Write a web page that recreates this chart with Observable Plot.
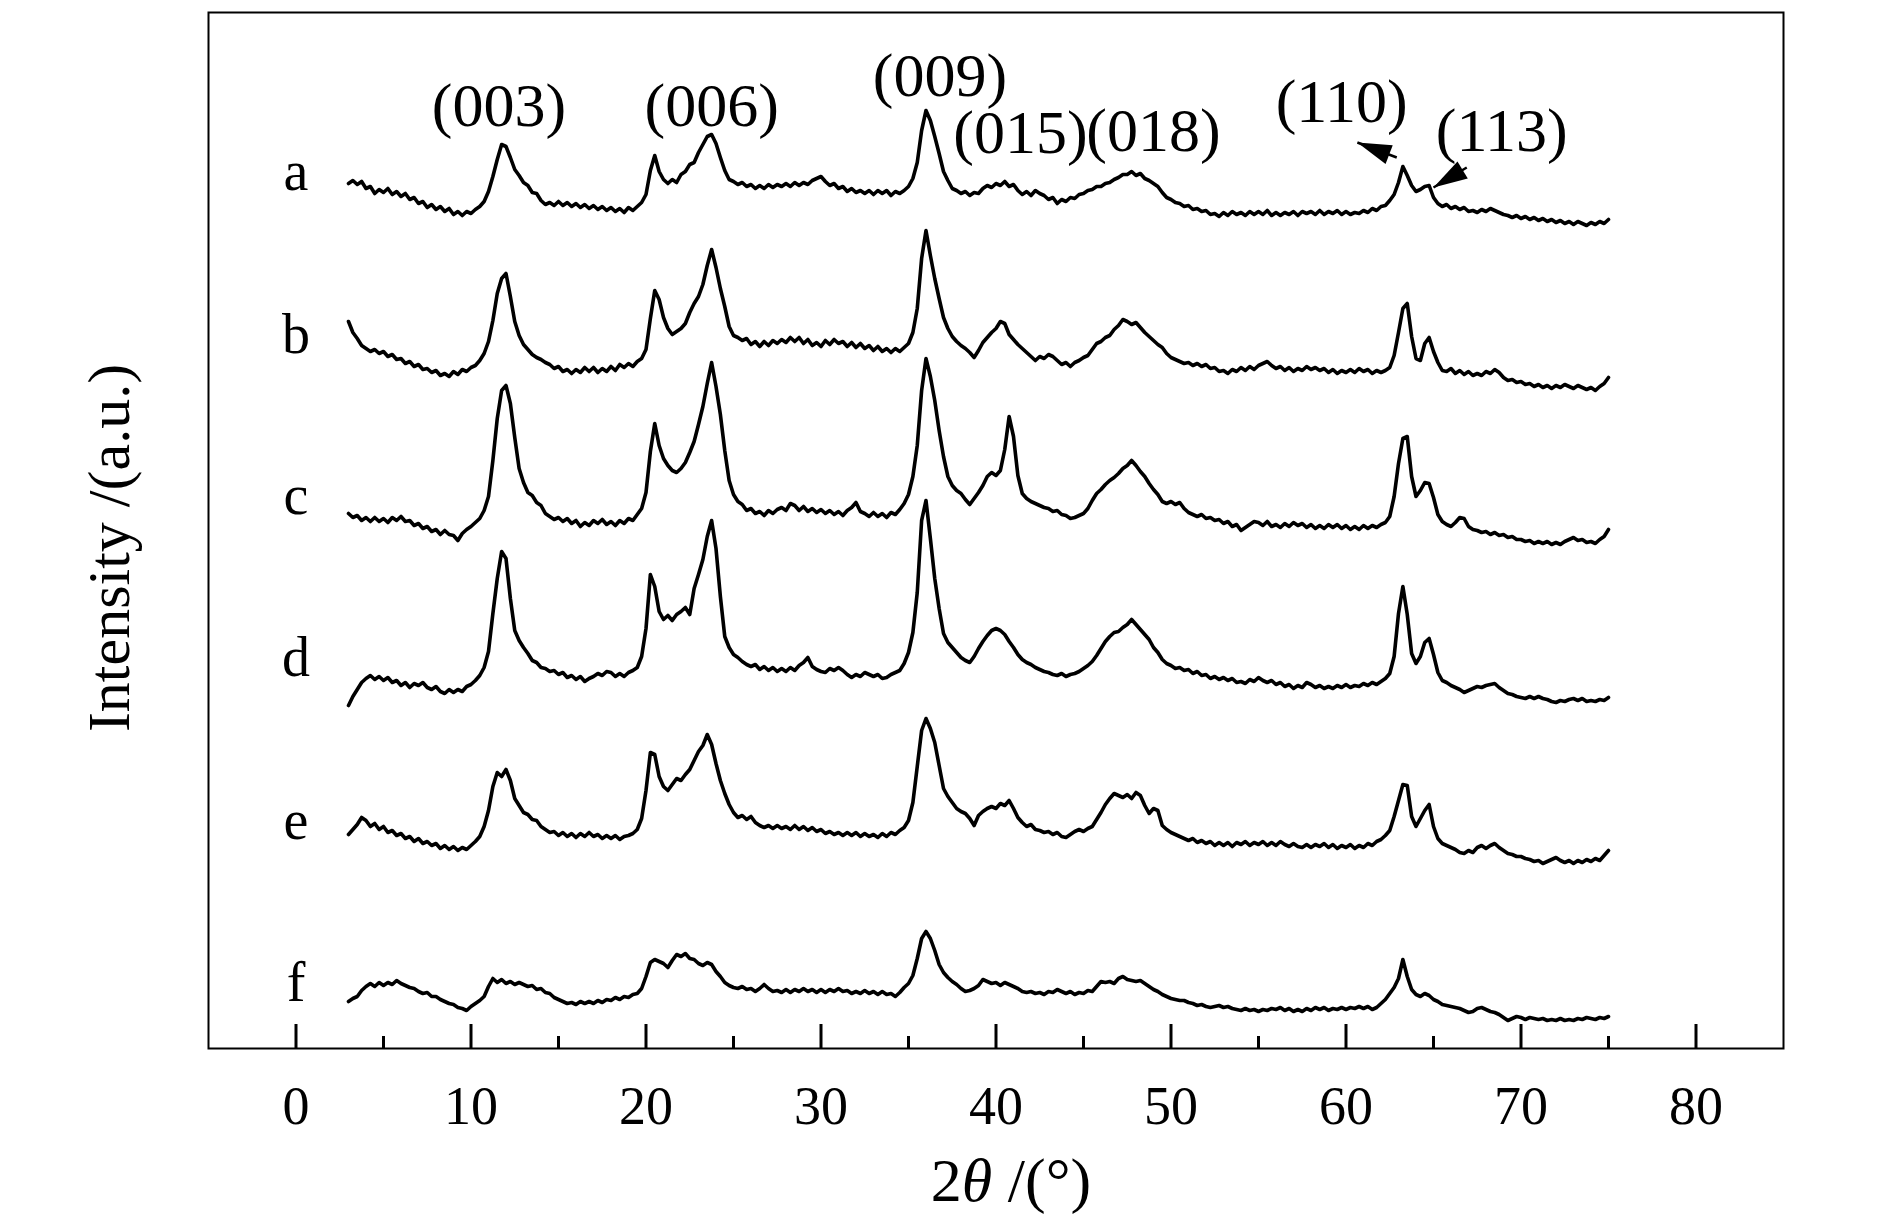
<!DOCTYPE html>
<html><head><meta charset="utf-8">
<script src="https://cdn.jsdelivr.net/npm/d3@7"></script>
<script src="https://cdn.jsdelivr.net/npm/@observablehq/plot@0.6"></script>
<style>
html,body{margin:0;padding:0;background:#fff;}
#chart svg{display:block;}
</style></head><body><div id="chart"></div>
<script>
// XRD patterns, 2θ from 3° to 75° in 0.25° steps (intensity in a.u., stacked)
const twoThetaStart = 3, twoThetaStep = 0.25;
const seriesNames = ["a","b","c","d","e","f"];
const seriesA = [
865,868,864,867,860,862,855,859,856,860,854,857,852,855,849,851,845,847,841,844,
839,842,837,840,834,837,833,837,835,839,842,847,857,872,889,904,902,891,879,873,
866,863,856,855,848,844,846,843,847,843,846,842,845,841,844,840,843,839,842,838,
841,837,840,836,841,838,842,846,854,878,893,877,869,865,869,866,874,877,884,886,
896,904,912,914,905,891,878,869,867,864,866,862,864,860,863,860,864,861,864,862,
865,862,866,863,866,864,868,870,872,867,863,865,860,862,857,860,856,858,855,858,
854,858,855,858,853,857,855,858,862,870,886,918,938,928,912,895,877,868,860,858,
855,857,853,856,855,860,863,861,865,863,867,862,864,858,854,857,853,858,855,853,
849,851,845,849,847,851,850,854,855,858,859,862,862,865,866,869,871,874,874,877,
873,875,870,868,865,862,856,851,849,846,845,842,843,839,840,837,838,834,835,832,
836,833,837,834,836,833,837,834,837,834,838,833,836,833,836,834,837,833,837,835,
837,834,838,834,837,835,838,834,837,834,836,835,838,836,840,838,842,843,848,854,
866,882,873,863,857,859,862,863,851,845,842,844,840,842,839,841,837,838,836,839,
837,840,838,836,834,833,831,833,830,832,829,831,828,830,827,829,826,828,825,827,
824,827,825,823,826,824,827,825,829];
const seriesB = [
727,716,710,703,700,697,699,695,697,692,694,689,690,685,687,682,684,679,680,676,
678,673,675,672,677,674,679,677,681,683,688,695,707,728,755,770,775,752,727,713,
704,699,694,691,689,686,684,680,682,677,679,675,679,676,681,677,681,676,680,677,
682,678,684,681,685,682,687,690,699,730,758,749,731,720,714,717,720,725,736,745,
752,764,783,799,781,760,742,722,713,711,708,710,704,707,702,707,703,708,705,709,
706,711,707,711,705,709,703,706,702,708,704,709,705,707,702,706,701,705,700,703,
698,702,697,700,696,700,697,701,705,716,740,790,818,793,770,750,731,720,712,707,
703,700,696,691,698,706,711,716,720,727,725,714,709,704,700,696,692,688,692,690,
694,692,688,684,686,682,686,688,691,693,699,705,707,711,713,719,723,729,727,724,
726,721,716,712,708,704,701,695,691,689,687,685,686,683,685,682,684,680,681,677,
678,675,679,677,681,678,682,679,683,685,687,683,680,682,678,681,677,680,678,682,
679,681,678,680,676,679,675,678,676,679,676,680,677,679,675,678,676,678,681,693,
716,740,745,712,690,688,705,711,697,686,678,677,680,675,678,674,677,673,675,673,
677,675,679,676,671,668,669,666,667,664,665,662,664,661,663,660,663,661,664,662,
660,663,661,659,661,658,662,665,671];
const seriesC = [
535,531,533,528,531,527,531,527,530,526,531,528,532,527,528,523,525,520,522,517,
519,514,518,514,513,508,515,519,522,526,530,538,552,588,630,658,663,645,611,580,
566,556,553,546,543,535,532,529,531,527,530,525,528,522,526,523,528,525,529,524,
527,523,528,525,530,528,534,540,556,597,625,603,590,583,578,576,580,586,596,607,
624,642,665,686,662,634,598,568,554,547,544,538,540,535,537,533,538,535,539,541,
538,545,543,538,542,537,540,536,539,535,538,534,537,533,538,541,546,537,535,532,
536,532,535,531,536,534,539,545,554,572,603,658,690,672,648,618,592,572,563,558,
555,549,544,550,556,563,572,576,573,578,599,632,612,573,555,550,547,545,543,541,
540,537,538,534,533,530,531,533,535,540,548,555,559,564,568,571,575,580,583,588,
583,577,572,565,559,554,547,545,547,544,546,540,536,534,532,534,530,531,528,529,
525,527,522,524,518,521,524,527,526,523,527,522,524,521,525,522,526,523,525,521,
524,520,523,520,524,521,524,520,523,519,522,519,523,520,523,521,524,526,532,552,
585,610,612,572,552,558,566,565,551,534,527,524,522,526,531,530,522,519,518,516,
517,514,516,513,514,511,512,509,509,507,508,505,507,505,507,504,506,504,507,509,
511,508,509,506,507,505,509,512,519];
const seriesD = [
343,352,359,366,370,373,369,372,368,371,366,368,363,366,361,365,363,366,361,359,
362,357,355,359,356,359,357,362,364,368,373,381,397,435,470,497,490,450,418,408,
401,395,388,386,381,380,377,378,374,376,371,373,369,372,367,370,372,375,373,377,
376,372,375,372,376,378,381,392,420,474,462,437,429,433,428,434,437,441,434,460,
474,489,512,528,500,452,412,401,394,391,387,384,382,384,379,382,378,381,377,380,
377,381,378,383,386,391,382,379,377,376,380,378,381,378,374,371,374,372,376,374,
372,374,370,371,374,376,378,385,396,416,456,528,548,510,470,440,415,406,401,396,
391,388,386,392,400,407,413,418,420,418,414,407,401,394,389,386,384,381,379,377,
376,374,373,375,372,374,375,377,380,383,387,393,400,407,412,416,417,421,424,429,
424,419,414,409,401,396,389,385,383,380,381,378,379,375,377,373,374,370,372,369,
371,368,370,366,367,365,369,367,371,368,366,368,364,366,362,364,360,363,361,366,
364,361,363,360,362,360,363,361,364,361,363,362,365,363,366,364,367,370,375,392,
435,462,434,395,385,392,406,410,394,376,368,366,363,361,359,356,358,360,362,361,
363,364,365,361,358,355,354,352,351,350,352,350,352,350,349,347,346,348,347,349,
350,348,350,347,348,347,349,348,351];
const seriesE = [
214,219,224,231,228,222,225,219,222,216,218,213,215,210,212,207,210,205,207,203,
205,200,203,199,202,198,201,199,203,207,212,222,238,262,276,272,279,268,250,243,
236,234,229,228,222,219,216,217,213,216,212,215,211,215,212,216,212,214,210,213,
210,213,209,212,213,215,219,230,258,296,294,272,262,258,264,270,268,274,279,288,
297,303,314,304,285,268,255,244,236,231,233,229,232,226,223,221,223,220,223,220,
222,219,223,219,222,218,221,217,219,215,217,214,216,213,216,213,216,212,215,212,
214,211,215,212,216,214,218,221,228,246,282,318,330,320,306,283,260,252,246,240,
237,235,230,223,233,237,240,242,240,245,243,248,240,231,226,222,224,219,218,216,
217,214,216,212,211,214,217,219,217,220,222,229,236,244,250,255,253,251,254,250,
256,253,243,235,240,238,223,219,216,214,212,210,208,210,206,208,205,207,203,206,
203,206,202,206,204,207,203,206,204,207,203,206,203,207,204,202,205,202,201,204,
201,204,202,205,201,204,200,203,201,204,200,203,201,205,203,207,209,213,218,232,
248,264,263,232,222,230,238,244,222,210,205,203,201,199,196,195,198,196,201,203,
200,203,205,201,198,195,194,192,192,190,189,187,188,185,187,189,191,188,186,188,
185,188,186,189,187,190,188,193,198];
const seriesF = [
47,50,52,58,62,65,62,66,63,66,64,68,65,63,61,60,57,55,56,52,
52,49,47,45,44,41,40,38,42,45,48,52,62,70,66,69,65,67,64,66,
64,62,63,59,60,56,55,51,49,47,45,46,44,47,45,47,45,48,46,49,
48,51,49,52,51,54,55,60,72,86,89,87,85,81,88,94,92,95,90,89,
85,83,86,84,77,72,66,63,61,60,62,59,60,57,60,64,60,57,58,56,
59,56,59,57,60,57,59,56,59,56,59,57,60,57,58,55,57,55,58,55,
57,54,57,54,55,52,56,61,65,73,90,110,117,110,98,84,76,71,67,64,
60,57,58,60,63,69,67,65,66,63,66,64,62,60,57,56,57,55,56,54,
57,56,59,57,55,57,54,56,55,58,57,62,67,66,67,65,70,72,69,68,
67,68,65,62,59,57,54,52,50,49,48,48,46,45,43,44,42,41,42,43,
41,42,40,39,38,40,38,39,37,39,38,40,39,41,38,40,37,39,37,40,
38,41,39,41,38,40,39,41,39,41,40,42,40,42,39,41,45,49,55,61,
70,89,72,59,54,52,55,53,49,47,44,43,42,41,40,38,36,37,40,41,
39,37,36,34,31,28,30,32,31,29,31,30,29,30,28,29,28,30,28,29,
28,30,29,31,30,29,31,30,32];

const majorTicks = [0,10,20,30,40,50,60,70,80];
const minorTicks = [5,15,25,35,45,55,65,75];

const peakLabels = ["(003)","(006)","(009)","(015)","(018)","(110)","(113)"];
const peakLabelX = [11.6,23.75,36.8,41.4,49.0,59.75,68.9];
const peakLabelY = [942,942,972,915,917,946,917];

const seriesLabelX = 0;
const seriesLabelY = [876,713,552,390,227,65];

// arrows: tail -> tip (2θ, intensity)
const arrowTailX = [62.9, 66.9], arrowTailY = [891, 881];
const arrowTipX = [60.65, 65.0], arrowTipY = [906, 861];

const xTitle = ["2", "θ", " /(°)"];
const yTitle = "Intensity /(a.u.)";

// ---------- build ----------
const W = 1887, H = 1227, mL = 208, mR = 104, mT = 12, mB = 179;
const xDomain = [-5, 85], yDomain = [0, 1036];
const font = "'Liberation Serif','Times New Roman',Times,serif";

const allSeries = [seriesA, seriesB, seriesC, seriesD, seriesE, seriesF];
const lineData = allSeries.flatMap((vals, k) =>
  vals.map((v, i) => ({t: twoThetaStart + i * twoThetaStep, v, s: seriesNames[k]})));

const peaks = peakLabels.map((text, i) => ({text, x: peakLabelX[i], y: peakLabelY[i]}));
const seriesLabels = seriesNames.map((s, i) => ({s, x: seriesLabelX, y: seriesLabelY[i]}));

const pxPerX = (W - mL - mR) / (xDomain[1] - xDomain[0]);
const pxPerY = (H - mT - mB) / (yDomain[1] - yDomain[0]);
const arrows = arrowTipX.map((_, i) => {
  const dx = (arrowTipX[i] - arrowTailX[i]) * pxPerX;
  const dy = -(arrowTipY[i] - arrowTailY[i]) * pxPerY;
  return {x1: arrowTailX[i], y1: arrowTailY[i], x2: arrowTipX[i], y2: arrowTipY[i],
          angle: Math.atan2(dx, -dy) * 180 / Math.PI};
});
const arrowHead = {draw(ctx) { ctx.moveTo(0, 0); ctx.lineTo(-10, 34); ctx.lineTo(10, 34); ctx.closePath(); }};

const chart = Plot.plot({
  width: W, height: H,
  marginLeft: mL, marginRight: mR, marginTop: mT, marginBottom: mB,
  style: {fontFamily: font, background: "white", color: "black", overflow: "visible"},
  x: {domain: xDomain, label: null},
  y: {domain: yDomain, axis: null, label: null},
  marks: [
    Plot.line(lineData, {x: "t", y: "v", z: "s", stroke: "black", strokeWidth: 3.6, strokeLinejoin: "round", strokeLinecap: "round"}),
    Plot.frame({stroke: "black", strokeWidth: 2}),
    Plot.axisX({ticks: majorTicks, tickSize: 24, dy: -24, tickFormat: () => "", strokeWidth: 3, label: null}),
    Plot.axisX({ticks: minorTicks, tickSize: 12, dy: -12, tickFormat: () => "", strokeWidth: 3, label: null}),
    Plot.axisX({ticks: majorTicks, tickSize: 0, tickPadding: 37, fontSize: 54, fill: "black", label: null}),
    Plot.text(peaks, {x: "x", y: "y", text: "text", fontSize: 62, fill: "black"}),
    Plot.text(seriesLabels, {x: "x", y: "y", text: "s", fontSize: 56, fill: "black"}),
    Plot.link(arrows, {x1: "x1", y1: "y1", x2: "x2", y2: "y2", stroke: "black", strokeWidth: 2.5}),
    Plot.dot(arrows, {x: "x2", y: "y2", symbol: arrowHead, r: 10, rotate: "angle", fill: "black", stroke: "none"})
  ]
});

const svg = d3.select(chart);
const xt = svg.append("text")
  .attr("x", 1011).attr("y", 1201)
  .attr("text-anchor", "middle")
  .attr("font-family", font).attr("font-size", 62).attr("fill", "black");
xt.append("tspan").text(xTitle[0]);
xt.append("tspan").attr("font-style", "italic").text(xTitle[1]);
xt.append("tspan").text(xTitle[2]);
svg.append("text")
  .attr("transform", "translate(129,548) rotate(-90)")
  .attr("text-anchor", "middle")
  .attr("font-family", font).attr("font-size", 60).attr("fill", "black")
  .text(yTitle);

document.getElementById("chart").appendChild(chart);
</script>
</body></html>
